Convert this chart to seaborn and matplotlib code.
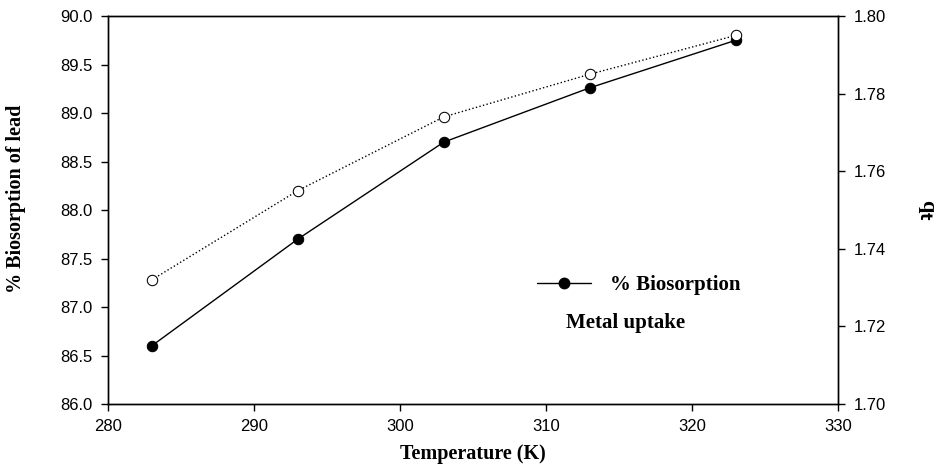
import seaborn as sns
import matplotlib.pyplot as plt
from matplotlib.lines import Line2D

# data
temperature = [283, 293, 303, 313, 323]
biosorption = [86.6, 87.7, 88.7, 89.26, 89.75]
metal_uptake = [1.732, 1.755, 1.774, 1.785, 1.795]

sns.set_style("ticks")
plt.rcParams['font.family'] = ['Liberation Sans', 'DejaVu Sans']
plt.rcParams['text.color'] = 'black'
serif = {'family': 'Liberation Serif', 'weight': 'bold', 'color': 'black'}

fig = plt.figure(figsize=(9.44, 4.67), dpi=100)
ax = fig.add_axes([0.1144, 0.1349, 0.7733, 0.8308])
ax2 = ax.twinx()

sns.lineplot(x=temperature, y=biosorption, ax=ax, color='black', lw=1,
             marker='o', markersize=7.5, markerfacecolor='black',
             markeredgecolor='black')
sns.lineplot(x=temperature, y=metal_uptake, ax=ax2, color='black', lw=1,
             linestyle=':', marker='o', markersize=7.5,
             markerfacecolor='white', markeredgecolor='black')

ax.set_xlim(280, 330)
ax.set_xticks(range(280, 331, 10))
ax.set_ylim(86, 90)
ax.set_yticks([86 + 0.5 * i for i in range(9)])
ax.set_yticklabels([f"{86 + 0.5 * i:.1f}" for i in range(9)])
ax2.set_ylim(1.70, 1.80)
ax2.set_yticks([1.70, 1.72, 1.74, 1.76, 1.78, 1.80])
ax2.set_yticklabels(["1.70", "1.72", "1.74", "1.76", "1.78", "1.80"])

for a in (ax, ax2):
    for s in a.spines.values():
        s.set_visible(True)
        s.set_linewidth(1)
        s.set_color('black')
    a.tick_params(direction='out', length=5, width=1, pad=6, labelsize=12,
                  colors='black')
    a.grid(False)

ax.set_xlabel("Temperature (K)", fontdict=serif, fontsize=14.5, labelpad=7)
ax.set_ylabel("% Biosorption of lead", fontdict=serif, fontsize=14.5)
ax.yaxis.set_label_coords(-0.113, 0.53)
ax2.set_ylabel("q$_\\mathbf{t}$", fontdict=serif, fontsize=16, rotation=270,
               labelpad=36)

handle = Line2D([], [], color='black', lw=1, marker='o', markersize=7.5)
leg = ax.legend([handle], ["% Biosorption"], loc='center left',
                bbox_to_anchor=(0.588, 0.307), frameon=False,
                prop={'family': 'Liberation Serif', 'weight': 'bold', 'size': 15},
                handlelength=2.6, handletextpad=0.9, borderpad=0,
                borderaxespad=0)
for t in leg.get_texts():
    t.set_color('black')
ax.text(0.627, 0.21, "Metal uptake", transform=ax.transAxes,
        fontdict=serif, fontsize=15, ha='left', va='center')

fig.savefig("out.png", dpi=100)
